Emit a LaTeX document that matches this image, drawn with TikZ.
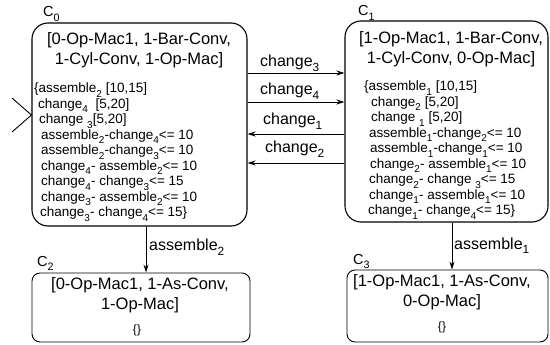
\documentclass[tikz,border=0pt]{standalone}
\usepackage{fontspec}
\setmainfont{Liberation Sans}
\usetikzlibrary{arrows.meta}
% lowered, reduced index as used in the event names
\newcommand\sbs[1]{\raisebox{-0.3em}{\scalebox{0.74}{#1}}}

\begin{document}
\begin{tikzpicture}[x=1pt,y=-1pt,
  state/.style={draw,line width=1.1pt,rounded corners=16pt,inner sep=0pt},
  endstate/.style={draw,line width=0.9pt,rounded corners=8pt,inner sep=0pt},
  head/.style={font=\fontsize{16.5}{20}\selectfont,align=center,inner sep=0pt},
  cons/.style={font=\fontsize{13.5}{15.5}\selectfont,align=left,inner sep=0pt,anchor=north west},
  empty/.style={font=\fontsize{12}{14}\selectfont,inner sep=0pt},
  lbl/.style={font=\fontsize{16}{18}\selectfont,inner sep=0pt,anchor=base west},
  cname/.style={font=\fontsize{14.5}{16}\selectfont,inner sep=0pt,anchor=base west},
  trans/.style={line width=0.9pt,-{Stealth[length=8pt,width=5pt]}}
]
\useasboundingbox (0,0) rectangle (550,345);

% states
\node[state,minimum width=215pt,minimum height=203pt] (C0) at (139.5,124.5) {};
\node[state,minimum width=203pt,minimum height=201pt] (C1) at (446.5,121.5) {};
\node[endstate,minimum width=218pt,minimum height=69pt] (C2) at (141,307.5) {};
\node[endstate,minimum width=201pt,minimum height=72pt] (C3) at (447.5,306) {};

% state names
\node[cname] (n0) at (43,17) {C\sbs{0}};
\node[cname] (n1) at (358,16) {C\sbs{1}};
\node[cname] (n2) at (37,266) {C\sbs{2}};
\node[cname] (n3) at (353,264) {C\sbs{3}};

% configurations
\node[head] (h0) at (139,50) {[0-Op-Mac1, 1-Bar-Conv,\\1-Cyl-Conv, 1-Op-Mac]};
\node[head] (h1) at (451,49) {[1-Op-Mac1, 1-Bar-Conv,\\1-Cyl-Conv, 0-Op-Mac]};
\node[head] (h2) at (140,295) {[0-Op-Mac1, 1-As-Conv,\\1-Op-Mac]};
\node[head] (h3) at (442,292) {[1-Op-Mac1, 1-As-Conv,\\0-Op-Mac]};

% constraint sets
\node[cons] (k0) at (34,83) {\{assemble\sbs{2} [10,15]\\
\hspace*{4pt}change\sbs{4}\ \ [5,20]\\
\hspace*{5pt}change \sbs{3}[5,20]\\
\hspace*{7pt}assemble\sbs{2}-change\sbs{4}<= 10\\
\hspace*{7pt}assemble\sbs{2}-change\sbs{3}<= 10\\
\hspace*{7pt}change\sbs{4}- assemble\sbs{2}<= 10\\
\hspace*{7pt}change\sbs{4}- change\sbs{3}<= 15\\
\hspace*{7pt}change\sbs{3}- assemble\sbs{2}<= 10\\
\hspace*{6pt}change\sbs{3}- change\sbs{4}<= 15\}};
\node[cons] (k1) at (364,81) {\{assemble\sbs{1} [10,15]\\
\hspace*{7pt}change\sbs{2} [5,20]\\
\hspace*{7pt}change \sbs{1} [5,20]\\
\hspace*{5pt}assemble\sbs{1}-change\sbs{2}<= 10\\
\hspace*{6pt}assemble\sbs{1}-change\sbs{1}<= 10\\
\hspace*{6pt}change\sbs{2}- assemble\sbs{1}<= 10\\
\hspace*{5pt}change\sbs{2}- change \sbs{3}<= 15\\
\hspace*{5pt}change\sbs{1}- assemble\sbs{1}<= 10\\
\hspace*{4pt}change\sbs{1}- change\sbs{4}<= 15\}};
\node[empty] (e2) at (137,330) {\{\}};
\node[empty] (e3) at (442,327) {\{\}};

% initial marker
\coordinate (i1) at (12,98);
\coordinate (i2) at (12,132);
\draw[line width=0.9pt] (i1) -- (C0.west |- 0,115) -- (i2);

% transitions between C0 and C1
\draw[trans] (C0.east |- 0,73) -- (C1.west |- 0,73);
\draw[trans] (C0.east |- 0,102) -- (C1.west |- 0,102);
\draw[trans] (C1.west |- 0,134) -- (C0.east |- 0,134);
\draw[trans] (C1.west |- 0,163) -- (C0.east |- 0,163);
\node[lbl] (t3) at (260,67) {change\sbs{3}};
\node[lbl] (t4) at (260,95) {change\sbs{4}};
\node[lbl] (t1) at (263,125) {change\sbs{1}};
\node[lbl] (t2) at (265,153) {change\sbs{2}};

% assembling transitions
\draw[trans] (C0.south -| 146,0) -- (C2.north -| 146,0);
\draw[trans] (C1.south -| 452,0) -- (C3.north -| 452,0);
\node[lbl] (a2) at (149,251) {assemble\sbs{2}};
\node[lbl] (a1) at (454,249) {assemble\sbs{1}};
\end{tikzpicture}
\end{document}
